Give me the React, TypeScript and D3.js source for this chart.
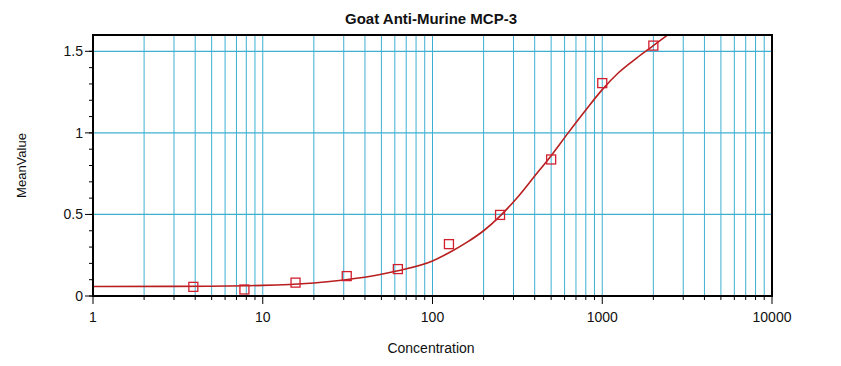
import React from "react";
import * as d3 from "d3";

const concentrations = [3.9, 7.8, 15.6, 31.25, 62.5, 125, 250, 500, 1000, 2000];
const meanValues = [0.056, 0.04, 0.082, 0.122, 0.165, 0.318, 0.497, 0.837, 1.305, 1.535];

const curveX = [1, 3, 10, 20, 30, 50, 62.5, 100, 125, 160, 200, 250, 320, 400, 500, 630, 800, 1000, 1250, 1600, 2000, 2500];
const curveY = [0.058, 0.059, 0.065, 0.08, 0.098, 0.133, 0.155, 0.215, 0.265, 0.33, 0.4, 0.49, 0.61, 0.735, 0.86, 1.0, 1.14, 1.265, 1.37, 1.46, 1.535, 1.61];

const xMajorTicks = [1, 10, 100, 1000, 10000];
const yMajorTicks = [0, 0.5, 1, 1.5];

const W = 841, H = 366;
const M = { left: 93, right: 772, top: 35, bottom: 296 };

export default function App() {
  const x = d3.scaleLog().domain([1, 10000]).range([M.left, M.right]);
  const y = d3.scaleLinear().domain([0, 1.6]).range([M.bottom, M.top]);

  const minorX: number[] = [];
  for (let d = 1; d < 10000; d *= 10) for (let k = 2; k <= 9; k++) minorX.push(d * k);
  const minorY = d3.range(0, 16).map((i) => i / 10);

  const line = d3
    .line<number>()
    .x((_, i) => x(curveX[i]))
    .y((d) => y(d))
    .curve(d3.curveMonotoneX);

  const grid = "#3fb0d3";
  const font = "Arial, 'Liberation Sans', sans-serif";

  return (
    <svg width={W} height={H} style={{ position: "absolute", left: 0, top: 0, background: "#fff" }} fontFamily={font}>
      <defs>
        <clipPath id="plot">
          <rect x={M.left} y={M.top} width={M.right - M.left} height={M.bottom - M.top} />
        </clipPath>
      </defs>
      {/* grid */}
      {[...minorX, ...xMajorTicks.slice(1, -1)].map((v, i) => (
        <line key={"gx" + i} x1={x(v)} x2={x(v)} y1={M.top} y2={M.bottom} stroke={grid} strokeWidth={1} />
      ))}
      {yMajorTicks.slice(1).map((v, i) => (
        <line key={"gy" + i} x1={M.left} x2={M.right} y1={y(v)} y2={y(v)} stroke={grid} strokeWidth={1.2} />
      ))}
      {/* curve */}
      <path d={line(curveY) || ""} fill="none" stroke="#b81e1e" strokeWidth={1.6} clipPath="url(#plot)" />
      {/* points */}
      {concentrations.map((c, i) => (
        <rect key={"p" + i} x={x(c) - 4.5} y={y(meanValues[i]) - 4.5} width={9} height={9} fill="none" stroke="#d02030" strokeWidth={1.3} />
      ))}
      {/* frame */}
      <rect x={M.left} y={M.top} width={M.right - M.left} height={M.bottom - M.top} fill="none" stroke="#000" strokeWidth={2} />
      {/* y ticks */}
      {minorY.map((v, i) => (
        <line key={"my" + i} x1={M.left - 4} x2={M.left} y1={y(v)} y2={y(v)} stroke="#000" strokeWidth={1} />
      ))}
      {yMajorTicks.map((v, i) => (
        <g key={"ty" + i}>
          <line x1={M.left - 8} x2={M.left} y1={y(v)} y2={y(v)} stroke="#000" strokeWidth={1} />
          <text x={M.left - 10} y={y(v)} dy="0.36em" textAnchor="end" fontSize={14} fill="#111">
            {d3.format("~g")(v)}
          </text>
        </g>
      ))}
      {/* x ticks */}
      {minorX.map((v, i) => (
        <line key={"mx" + i} x1={x(v)} x2={x(v)} y1={M.bottom} y2={M.bottom + 4} stroke="#000" strokeWidth={1} />
      ))}
      {xMajorTicks.map((v, i) => (
        <g key={"tx" + i}>
          <line x1={x(v)} x2={x(v)} y1={M.bottom} y2={M.bottom + 8} stroke="#000" strokeWidth={1} />
          <text x={x(v)} y={M.bottom + 26} textAnchor="middle" fontSize={14} fill="#111">
            {String(v)}
          </text>
        </g>
      ))}
      {/* titles */}
      <text x={431} y={24} textAnchor="middle" fontSize={15} fontWeight="bold" fill="#111">
        Goat Anti-Murine MCP-3
      </text>
      <text x={431} y={353} textAnchor="middle" fontSize={14} fill="#111">
        Concentration
      </text>
      <text transform={`translate(26,${(M.top + M.bottom) / 2}) rotate(-90)`} textAnchor="middle" fontSize={13} fill="#111">
        MeanValue
      </text>
    </svg>
  );
}
